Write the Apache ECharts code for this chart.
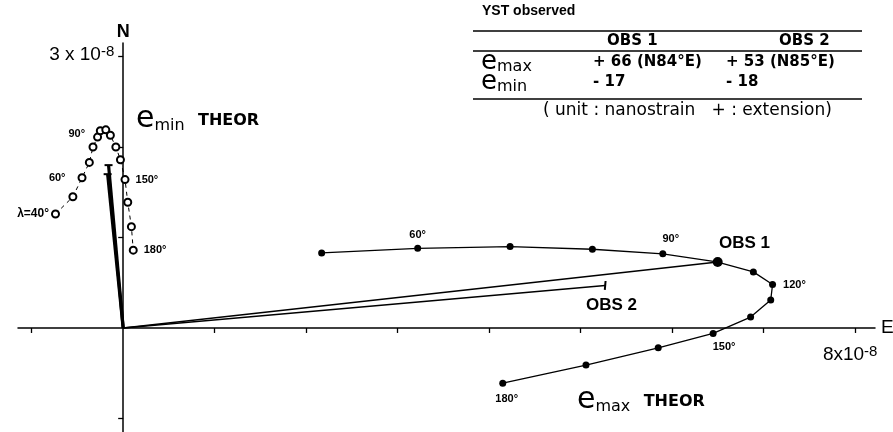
<!DOCTYPE html>
<html>
<head>
<meta charset="utf-8">
<script src="https://cdn.jsdelivr.net/npm/echarts@6/dist/echarts.min.js"></script>
<style>
  html, body { margin: 0; padding: 0; background: #fff; }
  #chart { width: 893px; height: 432px; }
</style>
</head>
<body>
<div id="chart"></div>
<script>
// strain components in units of 1e-8, x = E, y = N
const eMaxAngles = [50, 60, 70, 80, 90, 100, 110, 120, 130, 140, 150, 160, 170, 180]
const eMaxE = [2.17, 3.22, 4.23, 5.13, 5.90, 6.49, 6.89, 7.10, 7.08, 6.86, 6.45, 5.85, 5.06, 4.15]
const eMaxN = [0.83, 0.88, 0.90, 0.87, 0.82, 0.73, 0.62, 0.48, 0.31, 0.12, -0.06, -0.22, -0.41, -0.61]

const eMinAngles = [40, 50, 60, 70, 80, 90, 100, 110, 120, 130, 140, 150, 160, 170, 180]
const eMinE = [-0.74, -0.55, -0.45, -0.37, -0.33, -0.28, -0.25, -0.19, -0.14, -0.08, -0.03, 0.02, 0.05, 0.09, 0.11]
const eMinN = [1.26, 1.45, 1.66, 1.83, 2.00, 2.11, 2.18, 2.19, 2.13, 2.00, 1.86, 1.64, 1.39, 1.12, 0.86]

// observed vectors (end points)
const obsNames = ['OBS1', 'OBS2']
const obsMaxE = [6.50, 5.27]
const obsMaxN = [0.73, 0.47]
const obsMinE = [-0.17, -0.16]
const obsMinN = [1.70, 1.80]

const xTicks = [-1, 1, 2, 3, 4, 5, 6, 7, 8]
const yTicks = [-1, 1, 2, 3]
const xTickLabel = 8
const yTickLabel = 3

const font = 'Liberation Sans'
const font2 = 'DejaVu Sans'
const chart = echarts.init(document.getElementById('chart'))

// which angles carry a label, and where it goes
const eMaxLabelPos = {
  60: { position: 'top', distance: 4 },
  90: { position: 'top', distance: 6, offset: [8, 0] },
  120: { position: 'right', distance: 7 },
  150: { position: 'bottom', distance: 5, offset: [11, 0] },
  180: { position: 'bottom', distance: 7, offset: [4, 0] }
}
const eMinLabelPos = {
  40: { position: 'left', distance: 2, text: 'λ=40°' },
  60: { position: 'left', distance: 12 },
  90: { position: 'left', distance: 8, offset: [0, -3] },
  150: { position: 'right', distance: 6 },
  180: { position: 'right', distance: 6 }
}

function buildPoints(xs, ys, angles, labelPos) {
  return xs.map((x, i) => {
    const a = angles[i]
    const p = labelPos[a]
    if (!p) return [x, ys[i]]
    return {
      value: [x, ys[i]],
      label: {
        show: true,
        position: p.position,
        distance: p.distance,
        offset: p.offset || [0, 0],
        formatter: p.text || (a + '°'),
        color: '#000',
        fontFamily: font,
        fontWeight: 'bold',
        fontSize: a === 40 ? 12 : 11
      }
    }
  })
}

const obsSeries = []
obsNames.forEach((name, i) => {
  obsSeries.push({
    name: name + ' emax',
    type: 'line',
    data: [{ value: [0, 0], symbol: 'none' }, [obsMaxE[i], obsMaxN[i]]],
    symbol: i === 0 ? 'circle' : 'rect',
    symbolSize: i === 0 ? 10 : [2, 9],
    symbolRotate: i === 0 ? 0 : -5,
    showSymbol: true,
    itemStyle: { color: '#000' },
    lineStyle: { color: '#000', width: 1.6 },
    z: 4,
    silent: true
  })
  obsSeries.push({
    name: name + ' emin',
    type: 'line',
    data: [{ value: [0, 0], symbol: 'none' }, [obsMinE[i], obsMinN[i]]],
    symbol: 'rect',
    symbolSize: [8, 2],
    itemStyle: { color: '#000' },
    lineStyle: { color: '#000', width: 3.2 },
    z: 4,
    silent: true
  })
})

chart.setOption({
  animation: false,
  backgroundColor: '#fff',
  grid: { left: 18, right: 18, top: 43, bottom: 0, containLabel: false, outerBoundsMode: 'none' },
  xAxis: {
    type: 'value',
    min: -1.15,
    max: 8.22,
    splitLine: { show: false },
    axisLine: { onZero: true, lineStyle: { color: '#000', width: 1.5 } },
    axisTick: { customValues: xTicks, length: 5, lineStyle: { color: '#000', width: 1.3 } },
    axisLabel: { show: false },
    name: 'E',
    nameLocation: 'end',
    nameGap: 6,
    nameTextStyle: { fontFamily: font, fontSize: 19, color: '#000' }
  },
  yAxis: {
    type: 'value',
    min: -1.15,
    max: 3.15,
    splitLine: { show: false },
    axisLine: { onZero: true, lineStyle: { color: '#000', width: 1.5 } },
    axisTick: { customValues: yTicks, length: 5, lineStyle: { color: '#000', width: 1.3 } },
    axisLabel: { show: false },
    name: 'N',
    nameLocation: 'end',
    nameGap: 2,
    nameTextStyle: { fontFamily: font, fontSize: 18, fontWeight: 'bold', color: '#000' }
  },
  series: [
    {
      name: 'emax THEOR',
      type: 'line',
      data: buildPoints(eMaxE, eMaxN, eMaxAngles, eMaxLabelPos),
      symbol: 'circle',
      symbolSize: 7,
      itemStyle: { color: '#000' },
      lineStyle: { color: '#000', width: 1.3 },
      z: 3
    },
    {
      name: 'emin THEOR',
      type: 'line',
      data: buildPoints(eMinE, eMinN, eMinAngles, eMinLabelPos),
      symbol: 'emptyCircle',
      symbolSize: 7,
      itemStyle: { color: '#000', borderColor: '#000', borderWidth: 1.6 },
      lineStyle: { color: '#000', width: 1, type: [4, 4] },
      z: 3
    }
  ].concat(obsSeries)
})

// tick labels "3 x 10^-8" and "8 x 10^-8", placed at their axis values
const yLab = chart.convertToPixel({ gridIndex: 0 }, [0, yTickLabel])
const xLab = chart.convertToPixel({ gridIndex: 0 }, [xTickLabel, 0])
const powRich = {
  b: { fontFamily: font, fontSize: 19, fill: '#000', lineHeight: 20, verticalAlign: 'bottom' },
  s: { fontFamily: font, fontSize: 15, fill: '#000', lineHeight: 15, verticalAlign: 'top', padding: [0, 0, 12, 0] }
}

function capRich(size) {
  return {
    e: { fontFamily: font2, fontSize: size, fill: '#000', verticalAlign: 'bottom' },
    m: { fontFamily: font2, fontSize: 16, fill: '#000', verticalAlign: 'bottom' },
    t: { fontFamily: font2, fontSize: 16, fontWeight: 'bold', fill: '#000', verticalAlign: 'bottom', padding: [0, 0, 5, 0] }
  }
}
const bold15 = 'bold 15px "DejaVu Sans"'

chart.setOption({
  graphic: [
    { type: 'text', left: yLab[0] - 74, top: yLab[1] - 12, style: { text: '{b|' + yTickLabel + ' x 10}{s|-8}', rich: powRich } },
    { type: 'text', left: xLab[0] - 32, top: xLab[1] + 16, style: { text: '{b|' + xTickLabel + 'x10}{s|-8}', rich: powRich } },

    // curve captions
    { type: 'text', left: 136, top: 104, style: { text: '{e|e}{m|min}    {t|THEOR}', rich: capRich(30) } },
    { type: 'text', left: 577, top: 385, style: { text: '{e|e}{m|max}    {t|THEOR}', rich: capRich(30) } },
    { type: 'text', left: 719, top: 235, style: { text: 'OBS 1', font: 'bold 17px "Liberation Sans"', fill: '#000' } },
    { type: 'text', left: 586, top: 297, style: { text: 'OBS 2', font: 'bold 17px "Liberation Sans"', fill: '#000' } },

    // observed table
    { type: 'text', left: 482, top: 4, style: { text: 'YST observed', font: 'bold 14px "Liberation Sans"', fill: '#000' } },
    { type: 'line', shape: { x1: 473, y1: 31, x2: 862, y2: 31 }, style: { stroke: '#000', lineWidth: 1.6 } },
    { type: 'text', left: 607, top: 34, style: { text: 'OBS 1', font: bold15, fill: '#000' } },
    { type: 'text', left: 779, top: 34, style: { text: 'OBS 2', font: bold15, fill: '#000' } },
    { type: 'line', shape: { x1: 473, y1: 51, x2: 862, y2: 51 }, style: { stroke: '#000', lineWidth: 1.6 } },
    { type: 'text', left: 481, top: 49, style: { text: '{e|e}{m|max}', rich: capRich(26) } },
    { type: 'text', left: 481, top: 69, style: { text: '{e|e}{m|min}', rich: capRich(26) } },
    { type: 'text', left: 593, top: 55, style: { text: '+ 66 (N84°E)', font: bold15, fill: '#000' } },
    { type: 'text', left: 726, top: 55, style: { text: '+ 53 (N85°E)', font: bold15, fill: '#000' } },
    { type: 'text', left: 593, top: 75, style: { text: '- 17', font: bold15, fill: '#000' } },
    { type: 'text', left: 726, top: 75, style: { text: '- 18', font: bold15, fill: '#000' } },
    { type: 'line', shape: { x1: 473, y1: 99, x2: 862, y2: 99 }, style: { stroke: '#000', lineWidth: 1.6 } },
    { type: 'text', left: 543, top: 102, style: { text: '( unit : nanostrain   + : extension)', font: '17px "DejaVu Sans"', fill: '#000' } }
  ]
})
</script>
</body>
</html>
